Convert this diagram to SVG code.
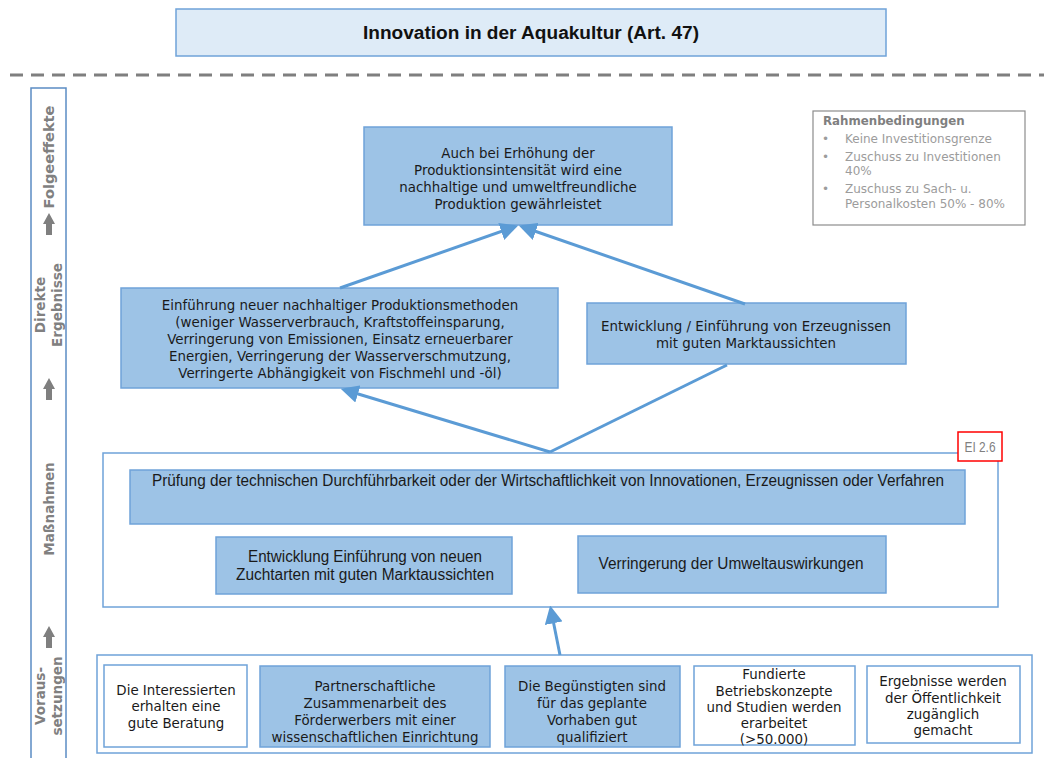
<svg xmlns="http://www.w3.org/2000/svg" width="1044" height="758" viewBox="0 0 1044 758">
  <style>
    .t { font-family: "DejaVu Sans", Verdana, sans-serif; font-size: 13.4px; fill: #1a1a1a; text-anchor: middle; }
    .n { font-family: "Liberation Sans Narrow", "Liberation Sans", Arial, sans-serif; font-size: 16px; fill: #1a1a1a; text-anchor: middle; }
    .blue { fill: #9dc3e6; stroke: #6fa3d9; stroke-width: 1.5; }
    .white { fill: #ffffff; stroke: #6fa3d9; stroke-width: 1.5; }
    .frame { fill: #ffffff; stroke: #6fa3d9; stroke-width: 1.5; }
    .lane { font-family: "DejaVu Sans", Verdana, sans-serif; font-size: 13.5px; font-weight: bold; fill: #808080; text-anchor: middle; }
    .conn { stroke: #5b9bd5; stroke-width: 3; fill: none; }
    .rb { font-family: "DejaVu Sans", Verdana, sans-serif; font-size: 12px; fill: #9c9c9c; }
  </style>
  <defs>
    <marker id="ah" markerWidth="6" markerHeight="6" refX="4.5" refY="3" orient="auto" markerUnits="strokeWidth">
      <path d="M0,0 L6,3 L0,6 Z" fill="#5b9bd5"/>
    </marker>
    <path id="uparrow" d="M-3,11 L-3,0 L-6,0 L0,-11 L6,0 L3,0 L3,11 Z" fill="#7f7f7f"/>
  </defs>

  <rect width="1044" height="758" fill="#ffffff"/>

  <!-- title -->
  <g id="title">
    <rect x="176" y="9" width="710" height="47" fill="#deebf7" stroke="#6fa3d9" stroke-width="1.5"/>
    <text x="531" y="39" font-family="'Liberation Sans Narrow','Liberation Sans',Arial,sans-serif" font-size="18" font-weight="bold" fill="#111" text-anchor="middle" textLength="336" lengthAdjust="spacingAndGlyphs">Innovation in der Aquakultur (Art. 47)</text>
  </g>

  <line x1="10" y1="75" x2="1044" y2="75" stroke="#7f7f7f" stroke-width="3" stroke-dasharray="13,8"/>

  <!-- lane labels -->
  <g id="lanes">
    <rect x="31" y="88" width="35" height="680" fill="none" stroke="#5b8cc4" stroke-width="1.5"/>
    <text class="lane" transform="translate(54,157) rotate(-90)" textLength="103" lengthAdjust="spacingAndGlyphs">Folgeeffekte</text>
    <use href="#uparrow" x="49" y="224"/>
    <text class="lane" transform="translate(45,305) rotate(-90)">Direkte</text>
    <text class="lane" transform="translate(62,305) rotate(-90)">Ergebnisse</text>
    <use href="#uparrow" x="49" y="389"/>
    <text class="lane" transform="translate(54,509) rotate(-90)">Maßnahmen</text>
    <use href="#uparrow" x="49" y="637"/>
    <text class="lane" transform="translate(45,696) rotate(-90)">Voraus-</text>
    <text class="lane" transform="translate(62,696) rotate(-90)">setzungen</text>
  </g>

  <!-- framework conditions -->
  <g id="rahmenbedingungen">
    <rect x="813" y="111" width="212" height="114" fill="#ffffff" stroke="#8c8c8c" stroke-width="1.2"/>
    <text x="823" y="125" font-family="'DejaVu Sans',Verdana,sans-serif" font-size="11.8" font-weight="bold" fill="#7f7f7f">Rahmenbedingungen</text>
    <text class="rb" x="822" y="143">•</text><text class="rb" x="845" y="143">Keine Investitionsgrenze</text>
    <text class="rb" x="822" y="161">•</text><text class="rb" x="845" y="161">Zuschuss zu Investitionen</text>
    <text class="rb" x="845" y="175">40%</text>
    <text class="rb" x="822" y="193">•</text><text class="rb" x="845" y="193">Zuschuss zu Sach- u.</text>
    <text class="rb" x="845" y="208">Personalkosten 50% - 80%</text>
  </g>

  <!-- long-term effect -->
  <g id="folgeeffekt">
    <rect class="blue" x="364" y="127" width="308" height="98"/>
    <text class="t" x="518" y="158">Auch bei Erhöhung der</text>
    <text class="t" x="518" y="175">Produktionsintensität wird eine</text>
    <text class="t" x="518" y="192">nachhaltige und umweltfreundliche</text>
    <text class="t" x="518" y="209">Produktion gewährleistet</text>
  </g>

  <!-- direct results -->
  <g id="ergebnis-methoden">
    <rect class="blue" x="121" y="288" width="437" height="100"/>
    <text class="t" x="340" y="310">Einführung neuer nachhaltiger Produktionsmethoden</text>
    <text class="t" x="340" y="327">(weniger Wasserverbrauch, Kraftstoffeinsparung,</text>
    <text class="t" x="340" y="344">Verringerung von Emissionen, Einsatz erneuerbarer</text>
    <text class="t" x="340" y="361">Energien, Verringerung der Wasserverschmutzung,</text>
    <text class="t" x="340" y="378">Verringerte Abhängigkeit von Fischmehl und -öl)</text>
  </g>
  <g id="ergebnis-erzeugnisse">
    <rect class="blue" x="587" y="303" width="319" height="61"/>
    <text class="t" x="746" y="331">Entwicklung / Einführung von Erzeugnissen</text>
    <text class="t" x="746" y="348">mit guten Marktaussichten</text>
  </g>

  <!-- measures -->
  <g id="massnahmen">
    <rect class="frame" x="103" y="453" width="895" height="154"/>
    <rect x="958" y="432" width="44" height="29" fill="#ffffff" stroke="#ff0000" stroke-width="1.5"/>
    <text x="980" y="452" font-family="'Liberation Sans Narrow','Liberation Sans',Arial,sans-serif" font-size="15" fill="#808080" text-anchor="middle" textLength="31" lengthAdjust="spacingAndGlyphs">EI 2.6</text>
  </g>
  <g id="massnahme-pruefung">
    <rect class="blue" x="130" y="470" width="835" height="54"/>
    <text class="n" x="548" y="486" textLength="792" lengthAdjust="spacingAndGlyphs">Prüfung der technischen Durchführbarkeit oder der Wirtschaftlichkeit von Innovationen, Erzeugnissen oder Verfahren</text>
  </g>
  <g id="massnahme-zuchtarten">
    <rect class="blue" x="216" y="537" width="296" height="57"/>
    <text class="n" x="365" y="562" textLength="234" lengthAdjust="spacingAndGlyphs">Entwicklung Einführung von neuen</text>
    <text class="n" x="365" y="580" textLength="258" lengthAdjust="spacingAndGlyphs">Zuchtarten mit guten Marktaussichten</text>
  </g>
  <g id="massnahme-umwelt">
    <rect class="blue" x="578" y="536" width="308" height="57"/>
    <text class="n" x="731" y="569" textLength="265" lengthAdjust="spacingAndGlyphs">Verringerung der Umweltauswirkungen</text>
  </g>

  <!-- prerequisites -->
  <g id="voraussetzungen">
    <rect class="frame" x="97" y="655" width="935" height="98"/>
  </g>
  <g id="v-beratung">
    <rect class="white" x="104" y="665" width="143" height="82"/>
    <text class="t" x="176" y="695">Die Interessierten</text>
    <text class="t" x="176" y="711">erhalten eine</text>
    <text class="t" x="176" y="728">gute Beratung</text>
  </g>
  <g id="v-partnerschaft">
    <rect class="blue" x="260" y="666" width="230" height="81"/>
    <text class="t" x="375" y="691">Partnerschaftliche</text>
    <text class="t" x="375" y="708">Zusammenarbeit des</text>
    <text class="t" x="375" y="725">Förderwerbers mit einer</text>
    <text class="t" x="375" y="742">wissenschaftlichen Einrichtung</text>
  </g>
  <g id="v-qualifikation">
    <rect class="blue" x="505" y="666" width="175" height="81"/>
    <text class="t" x="592" y="691">Die Begünstigten sind</text>
    <text class="t" x="592" y="708">für das geplante</text>
    <text class="t" x="592" y="725">Vorhaben gut</text>
    <text class="t" x="592" y="742">qualifiziert</text>
  </g>
  <g id="v-konzepte">
    <rect class="white" x="694" y="666" width="161" height="79"/>
    <text class="t" x="774" y="679">Fundierte</text>
    <text class="t" x="774" y="696">Betriebskonzepte</text>
    <text class="t" x="774" y="712">und Studien werden</text>
    <text class="t" x="774" y="728">erarbeitet</text>
    <text class="t" x="774" y="744">(&gt;50.000)</text>
  </g>
  <g id="v-oeffentlichkeit">
    <rect class="white" x="867" y="666" width="153" height="77"/>
    <text class="t" x="943" y="686">Ergebnisse werden</text>
    <text class="t" x="943" y="703">der Öffentlichkeit</text>
    <text class="t" x="943" y="719">zugänglich</text>
    <text class="t" x="943" y="735">gemacht</text>
  </g>

  <!-- connectors -->
  <g id="connectors">
    <line class="conn" x1="340" y1="288" x2="514" y2="227" marker-end="url(#ah)"/>
    <line class="conn" x1="745" y1="304" x2="523" y2="227" marker-end="url(#ah)"/>
    <line class="conn" x1="550" y1="452" x2="345" y2="390" marker-end="url(#ah)"/>
    <line class="conn" x1="550" y1="452" x2="727" y2="365"/>
    <line class="conn" x1="560" y1="655" x2="551" y2="610" marker-end="url(#ah)"/>
  </g>
</svg>
